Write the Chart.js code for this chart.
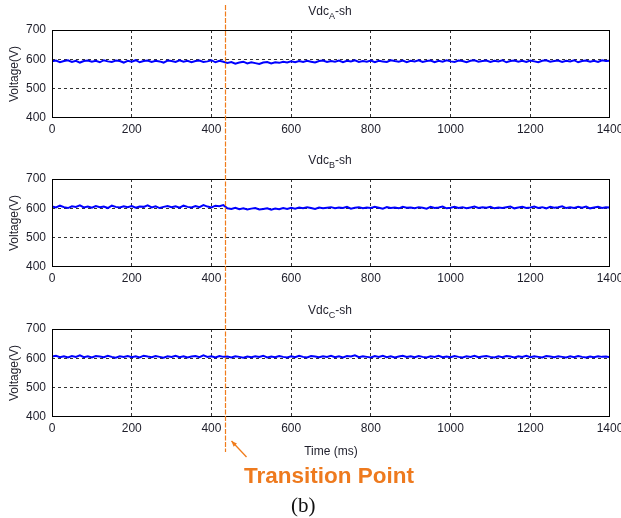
<!DOCTYPE html>
<html><head><meta charset="utf-8">
<script src="https://cdn.jsdelivr.net/npm/chart.js@4/dist/chart.umd.min.js"></script>
<style>
html,body{margin:0;padding:0;background:#fff;}
#wrap{position:relative;width:621px;height:518px;overflow:hidden;background:#fff;}
canvas{position:absolute;left:0;}
.ann{position:absolute;white-space:nowrap;}
#tp{left:244px;top:462px;font:bold 22.5px "Liberation Sans",Arial,sans-serif;color:#EE7A1E;line-height:28px;}
#cap{left:291px;top:493px;font:21px "Liberation Serif","Times New Roman",serif;color:#111;line-height:24px;}
</style></head><body>
<div id="wrap">
<canvas id="cA" width="621" height="149" style="top:0px"></canvas>
<canvas id="cB" width="621" height="150" style="top:149px"></canvas>
<canvas id="cC" width="621" height="219" style="top:299px"></canvas>
<div class="ann" id="tp">Transition Point</div>
<div class="ann" id="cap">(b)</div>
</div>
<script>
// ---- data (sampled every 10 ms, 0..1400 ms) ----
const SAMPLE_STEP_MS = 10;
const TRANSITION_MS = 434;
const X_TICKS = [0, 200, 400, 600, 800, 1000, 1200, 1400];
const Y_TICKS = [400, 500, 600, 700];
const TITLES = [["Vdc", "A", "-sh"], ["Vdc", "B", "-sh"], ["Vdc", "C", "-sh"]];

const vdcA = [
593,596,590,594,597,591,595,589,594,596,
592,595,590,597,593,591,596,594,589,595,
592,597,590,594,596,591,595,593,589,596,
594,591,597,592,595,590,594,596,591,593,
597,590,595,592,588,591,585,589,592,586,
590,587,584,589,591,586,590,588,592,589,
593,590,594,591,595,592,589,594,596,591,
594,592,596,590,595,593,597,591,594,592,
596,590,595,593,591,597,594,592,596,590,
595,593,597,591,594,596,590,595,592,597,
593,591,596,594,590,595,597,592,594,596,
591,595,593,597,590,594,596,592,595,591,
596,593,590,595,597,592,594,596,591,595,
593,597,590,594,596,592,595,591,597,594,
595];

const vdcB = [
606,603,609,604,601,607,605,610,603,606,
602,608,604,606,601,609,605,603,607,604,
608,602,606,605,610,603,607,601,605,608,
604,607,602,609,605,603,608,604,611,606,
603,609,607,611,600,598,602,597,600,596,
599,601,596,598,600,595,599,597,601,598,
602,599,603,600,604,601,598,603,600,602,
604,600,603,601,605,599,602,604,600,603,
601,605,602,599,604,601,603,600,605,602,
603,600,604,602,599,605,601,603,606,600,
602,605,601,604,600,603,606,601,604,602,
605,600,603,601,604,606,600,603,605,601,
603,606,601,604,600,605,602,604,607,601,
604,601,605,602,606,600,603,605,601,604,
603];

const vdcC = [
606,609,604,607,603,608,605,610,604,607,
603,608,606,604,609,605,602,607,605,608,
604,607,603,609,606,604,608,605,602,607,
605,609,604,607,603,606,608,604,610,605,
607,603,608,605,606,603,607,605,602,606,
604,607,605,609,603,606,604,608,605,603,
607,604,609,605,603,608,606,604,607,605,
609,604,607,603,608,606,610,604,607,605,
603,608,605,609,604,607,603,606,609,605,
607,604,608,605,603,607,605,609,604,606,
604,608,605,603,607,605,609,604,606,608,
605,603,607,604,608,606,603,607,605,609,
604,607,605,603,608,606,604,607,605,603,
607,604,608,605,603,606,604,607,605,606,
604];

const FONT = '"Liberation Sans", Arial, sans-serif';
const ORANGE = '#F07C1C';
const TEXT = '#1e1e2a';

function toPoints(vals) {
  return vals.map((v, i) => ({ x: i * SAMPLE_STEP_MS, y: v }));
}

const decorPlugin = {
  id: 'decor',
  afterDraw(chart, args, opts) {
    const ctx = chart.ctx;
    const ca = chart.chartArea;
    ctx.save();
    // full box
    ctx.strokeStyle = '#000';
    ctx.lineWidth = 1;
    ctx.setLineDash([]);
    const L = Math.round(ca.left) + 0.5, R = Math.round(ca.right) - 0.5;
    const T = Math.round(ca.top) + 0.5, B = Math.round(ca.bottom) - 0.5;
    ctx.strokeRect(L, T, R - L, B - T);
    // title with subscript
    const [main, sub, tail] = opts.title;
    const f1 = '12px ' + FONT, f2 = '9px ' + FONT;
    ctx.font = f1; const w1 = ctx.measureText(main).width, w3 = ctx.measureText(tail).width;
    ctx.font = f2; const w2 = ctx.measureText(sub).width;
    let x = (ca.left + ca.right) / 2 - (w1 + w2 + w3) / 2 - 1;
    const y = opts.titleY;
    ctx.fillStyle = TEXT;
    ctx.textBaseline = 'middle';
    ctx.textAlign = 'left';
    ctx.font = f1; ctx.fillText(main, x, y); x += w1;
    ctx.font = f2; ctx.fillText(sub, x, y + 5); x += w2;
    ctx.font = f1; ctx.fillText(tail, x, y);
    // transition line
    const tx = Math.round(chart.scales.x.getPixelForValue(TRANSITION_MS)) + 0.5;
    ctx.strokeStyle = ORANGE;
    ctx.lineWidth = 1.2;
    ctx.setLineDash([5, 1.5]);
    ctx.beginPath();
    ctx.moveTo(tx, opts.lineTop);
    ctx.lineTo(tx, opts.lineBottom);
    ctx.stroke();
    if (opts.arrow) {
      ctx.setLineDash([]);
      ctx.lineWidth = 1.3;
      const hx = tx + 6, hy = 142, sx = tx + 21, sy = 158;
      ctx.beginPath();
      ctx.moveTo(sx, sy); ctx.lineTo(hx, hy);
      ctx.stroke();
      const ang = Math.atan2(hy - sy, hx - sx);
      ctx.fillStyle = ORANGE;
      ctx.beginPath();
      ctx.moveTo(hx, hy);
      ctx.lineTo(hx - 6 * Math.cos(ang - 0.4), hy - 6 * Math.sin(ang - 0.4));
      ctx.lineTo(hx - 6 * Math.cos(ang + 0.4), hy - 6 * Math.sin(ang + 0.4));
      ctx.closePath();
      ctx.fill();
    }
    ctx.restore();
  }
};

function gridColor(ctx) {
  const s = ctx.scale;
  if (ctx.tick && (ctx.tick.value === s.min || ctx.tick.value === s.max)) return 'rgba(0,0,0,0)';
  return '#333';
}

function makeChart(id, vals, titleParts, cfg) {
  return new Chart(document.getElementById(id), {
    type: 'line',
    data: {
      datasets: [{
        data: toPoints(vals),
        borderColor: '#0000FF',
        borderWidth: 2,
        pointRadius: 0,
        tension: 0,
        fill: false
      }]
    },
    options: {
      responsive: false,
      animation: false,
      events: [],
      layout: { padding: { top: 30, right: 11, bottom: cfg.padBottom, left: 0 } },
      plugins: {
        legend: { display: false },
        tooltip: { enabled: false },
        decor: { title: titleParts, titleY: 12, lineTop: cfg.lineTop, lineBottom: cfg.lineBottom, arrow: cfg.arrow }
      },
      scales: {
        x: {
          type: 'linear', min: 0, max: 1400,
          afterBuildTicks: s => { s.ticks = X_TICKS.map(v => ({ value: v })); },
          afterFit: s => { s.height = cfg.xHeight; s.paddingLeft = 0; s.paddingRight = 0; },
          ticks: { font: { family: FONT, size: 12 }, color: TEXT, padding: 4, maxRotation: 0, autoSkip: false,
                   callback: v => String(v) },
          grid: { color: gridColor, lineWidth: 1, drawTicks: false },
          border: { display: false, dash: [3, 3] },
          title: cfg.xTitle ? { display: true, text: 'Time (ms)', font: { family: FONT, size: 12 }, color: TEXT, padding: { top: 4, bottom: 4 } } : { display: false }
        },
        y: {
          min: 400, max: 700,
          afterBuildTicks: s => { s.ticks = Y_TICKS.map(v => ({ value: v })); },
          afterFit: s => { s.width = 52; s.paddingTop = 0; s.paddingBottom = 0; },
          ticks: { font: { family: FONT, size: 12 }, color: TEXT, padding: 6, callback: v => String(v) },
          grid: { color: gridColor, lineWidth: 1, drawTicks: false },
          border: { display: false, dash: [3, 3] },
          title: { display: true, text: 'Voltage(V)', font: { family: FONT, size: 12 }, color: TEXT, padding: { top: 7, bottom: 4 } }
        }
      }
    },
    plugins: [decorPlugin]
  });
}

makeChart('cA', vdcA, TITLES[0], { padBottom: 0, xHeight: 31, lineTop: 5, lineBottom: 149, arrow: false, xTitle: false });
makeChart('cB', vdcB, TITLES[1], { padBottom: 0, xHeight: 32, lineTop: 0, lineBottom: 150, arrow: false, xTitle: false });
makeChart('cC', vdcC, TITLES[2], { padBottom: 55, xHeight: 46, lineTop: 0, lineBottom: 153, arrow: true, xTitle: true });
</script>
</body></html>
